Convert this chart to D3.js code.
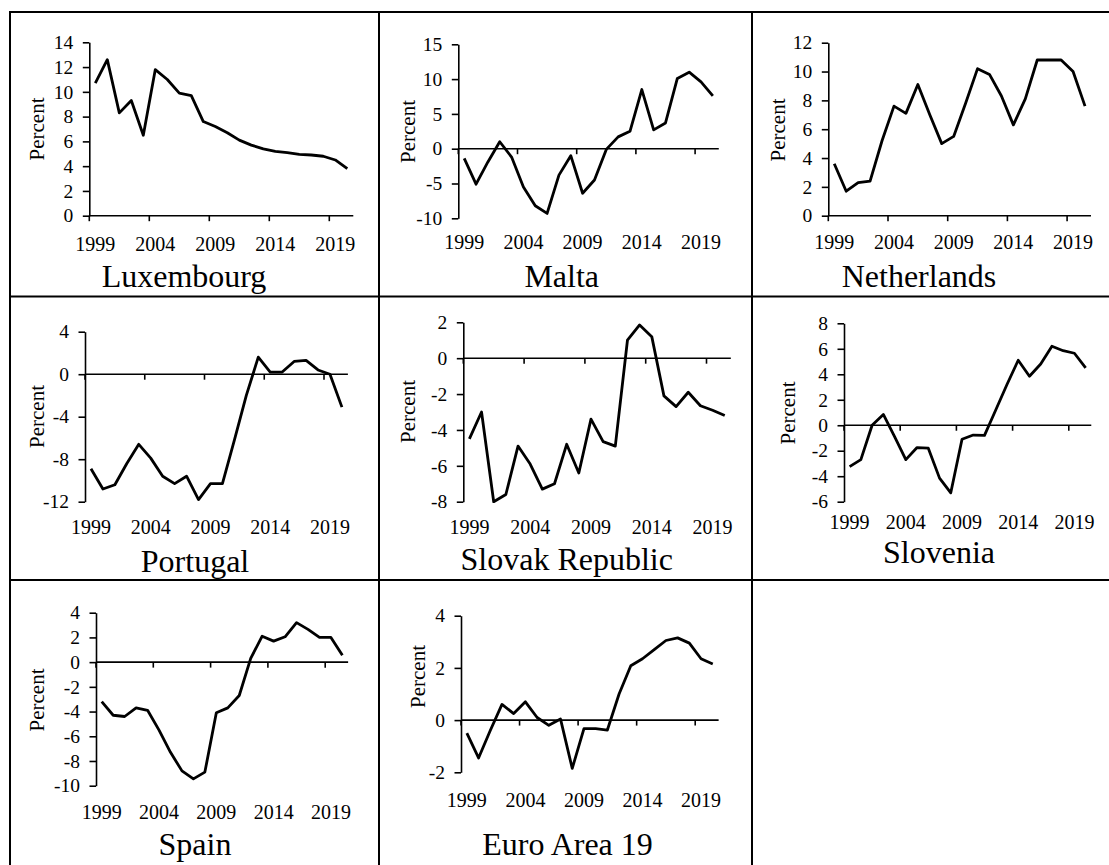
<!DOCTYPE html>
<html><head><meta charset="utf-8">
<script src="https://cdn.jsdelivr.net/npm/d3@7"></script>
<style>
body{margin:0;background:#fff;}
svg{display:block;background:#fff;}
text{font-family:"Liberation Serif","Times New Roman",serif;fill:#000;}
</style></head><body>
<svg id="c" width="1109" height="865"></svg>
<script>
// ---------- DATA ----------
const years = ["1999","2000","2001","2002","2003","2004","2005","2006","2007","2008","2009",
               "2010","2011","2012","2013","2014","2015","2016","2017","2018","2019","2020"];
const labelYears = ["1999","2004","2009","2014","2019"];
const yAxisTitle = "Percent";

const luxembourg  = [10.7,12.6,8.3,9.3,6.5,11.8,11.0,9.9,9.7,7.6,7.2,6.7,6.1,5.7,5.4,5.2,5.1,4.95,4.9,4.8,4.5,3.8];
const malta       = [-1.4,-5.1,-1.9,1.0,-1.2,-5.5,-8.2,-9.3,-3.8,-1.0,-6.4,-4.5,-0.1,1.7,2.5,8.5,2.7,3.7,10.1,11.0,9.6,7.6];
const netherlands = [3.6,1.7,2.3,2.4,5.2,7.6,7.1,9.1,7.0,5.0,5.5,7.8,10.2,9.8,8.3,6.3,8.1,10.8,10.8,10.8,10.0,7.6];
const portugal    = [-8.9,-10.8,-10.4,-8.4,-6.6,-7.9,-9.6,-10.3,-9.6,-11.8,-10.3,-10.3,-6.2,-2.0,1.6,0.2,0.2,1.2,1.3,0.4,0.0,-3.1];
const slovakRep   = [-4.5,-3.0,-8.0,-7.6,-4.9,-5.9,-7.3,-7.0,-4.8,-6.4,-3.4,-4.65,-4.9,1.0,1.85,1.2,-2.1,-2.7,-1.9,-2.65,-2.9,-3.2];
const slovenia    = [-3.25,-2.7,0.0,0.85,-0.9,-2.7,-1.75,-1.8,-4.15,-5.3,-1.1,-0.77,-0.8,1.2,3.2,5.1,3.85,4.8,6.2,5.85,5.65,4.5];
const spain       = [-3.2,-4.3,-4.4,-3.7,-3.9,-5.5,-7.3,-8.8,-9.45,-8.9,-4.1,-3.7,-2.7,0.3,2.1,1.7,2.05,3.2,2.65,2.0,2.0,0.55];
const euroArea19  = [-0.5,-1.45,-0.4,0.6,0.25,0.7,0.1,-0.2,0.04,-1.85,-0.33,-0.33,-0.38,1.0,2.08,2.35,2.7,3.05,3.15,2.95,2.35,2.15];

const ticksLuxembourg  = [0,2,4,6,8,10,12,14];
const ticksMalta       = [-10,-5,0,5,10,15];
const ticksNetherlands = [0,2,4,6,8,10,12];
const ticksPortugal    = [-12,-8,-4,0,4];
const ticksSlovak      = [-8,-6,-4,-2,0,2];
const ticksSlovenia    = [-6,-4,-2,0,2,4,6,8];
const ticksSpain       = [-10,-8,-6,-4,-2,0,2,4];
const ticksEuro        = [-2,0,2,4];

// ---------- LAYOUT ----------
const panels = [
  {name:"Luxembourg",      values:luxembourg,  ticks:ticksLuxembourg,  left:89.3,  top:42.3,  bottom:215.7, step:12.0,  xlabY:251, titleX:184,   titleY:287,   pctX:36.5,  pctY:129},
  {name:"Malta",           values:malta,       ticks:ticksMalta,       left:458.3, top:44.3,  bottom:218.3, step:11.84, xlabY:249, titleX:561.7, titleY:287,   pctX:407.5, pctY:131.5},
  {name:"Netherlands",     values:netherlands, ticks:ticksNetherlands, left:828.3, top:42.7,  bottom:215.7, step:11.94, xlabY:249, titleX:919,   titleY:287,   pctX:778.3, pctY:130},
  {name:"Portugal",        values:portugal,    ticks:ticksPortugal,    left:85,    top:331.7, bottom:501.7, step:11.95, xlabY:534, titleX:195,   titleY:571.7, pctX:36.7,  pctY:416.5},
  {name:"Slovak Republic", values:slovakRep,   ticks:ticksSlovak,      left:463.3, top:322.3, bottom:501.7, step:12.16, xlabY:534, titleX:566.7, titleY:570,   pctX:408.3, pctY:411.5},
  {name:"Slovenia",        values:slovenia,    ticks:ticksSlovenia,    left:844,   top:323.3, bottom:501.7, step:11.24, xlabY:529, titleX:939,   titleY:563.3, pctX:788.3, pctY:413},
  {name:"Spain",           values:spain,       ticks:ticksSpain,       left:96,    top:612.7, bottom:785.7, step:11.46, xlabY:819, titleX:195,   titleY:855,   pctX:36.7,  pctY:700},
  {name:"Euro Area 19",    values:euroArea19,  ticks:ticksEuro,        left:461,   top:615.7, bottom:772.3, step:11.71, xlabY:807, titleX:567.5, titleY:855,   pctX:418.3, pctY:676.5}
];

const FONT = '"Liberation Serif","Times New Roman",serif';
const svg = d3.select("#c");

// grid borders
const vLines = [10, 379, 752];
const hLines = [12, 296.5, 580];
svg.append("g").selectAll("line").data(vLines).join("line")
  .attr("x1", d=>d).attr("x2", d=>d).attr("y1", 11).attr("y2", 865)
  .attr("stroke","#000").attr("stroke-width",2);
svg.append("g").selectAll("line").data(hLines).join("line")
  .attr("x1", 9).attr("x2", 1109).attr("y1", d=>d).attr("y2", d=>d)
  .attr("stroke","#000").attr("stroke-width",2);

panels.forEach(p => {
  const g = svg.append("g");
  const x = d3.scaleBand().domain(years).range([p.left, p.left + p.step*years.length]).padding(0);
  const y = d3.scaleLinear().domain([p.ticks[0], p.ticks[p.ticks.length-1]]).range([p.bottom, p.top]);

  // y axis
  const ya = g.append("g").attr("transform", `translate(${p.left},0)`)
    .call(d3.axisLeft(y).tickValues(p.ticks).tickSize(6.5).tickSizeOuter(0).tickPadding(9.5).tickFormat(d => String(d)));
  ya.attr("font-family", FONT).attr("font-size", 19.5);
  ya.select(".domain").attr("stroke","#000").attr("stroke-width",1.6);
  ya.selectAll(".tick line").attr("stroke","#000").attr("stroke-width",1.6);
  ya.selectAll(".tick text").style("font-size","19.5px").attr("fill","#000");

  // horizontal axis at zero
  const xEnd = x.range()[1];
  g.append("line").attr("x1", p.left).attr("x2", xEnd).attr("y1", y(0)).attr("y2", y(0))
    .attr("stroke","#000").attr("stroke-width",1.6);
  // tick marks at category boundaries
  g.selectAll("line.xt").data(labelYears).join("line").attr("class","xt")
    .attr("x1", d=>x(d)).attr("x2", d=>x(d)).attr("y1", y(0)).attr("y2", y(0)+5.5)
    .attr("stroke","#000").attr("stroke-width",1.6);

  // x labels (low position)
  const xa = g.append("g").attr("transform", `translate(0,${p.xlabY})`)
    .call(d3.axisBottom(x).tickValues(labelYears).tickSize(0).tickPadding(0));
  xa.attr("font-family", FONT).attr("font-size", 20);
  xa.select(".domain").remove();
  xa.selectAll(".tick text").attr("dy", null).attr("y", 0)
    .style("font-size","20px").attr("fill","#000");

  // data line
  const line = d3.line().x((d,i) => x(years[i]) + x.bandwidth()/2).y(d => y(d));
  g.append("path").datum(p.values).attr("d", line)
    .attr("fill","none").attr("stroke","#000").attr("stroke-width",2.8).attr("stroke-linejoin","round");

  // y axis title
  g.append("text").attr("transform", `translate(${p.pctX},${p.pctY}) rotate(-90)`)
    .attr("text-anchor","middle").attr("dominant-baseline","central")
    .style("font-size","21px").text(yAxisTitle);

  // panel title
  g.append("text").attr("x", p.titleX).attr("y", p.titleY).attr("text-anchor","middle")
    .style("font-size","32px").text(p.name);
});
</script>
</body></html>
